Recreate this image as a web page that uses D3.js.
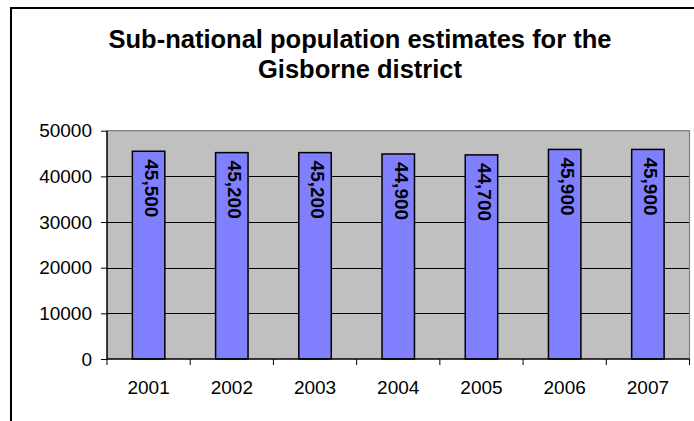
<!DOCTYPE html>
<html><head><meta charset="utf-8">
<script src="https://cdn.jsdelivr.net/npm/d3@7"></script>
<style>body{margin:0;background:#fff}svg{display:block}text{font-family:Arial,"Liberation Sans",sans-serif}</style>
</head><body>
<script>
const years = ["2001","2002","2003","2004","2005","2006","2007"];
const population = [45500,45200,45200,44900,44700,45900,45900];
const yTicks = [0,10000,20000,30000,40000,50000];
const titleLines = ["Sub-national population estimates for the","Gisborne district"];

const W=694,H=421;
const svg=d3.select("body").append("svg").attr("width",W).attr("height",H);
svg.append("rect").attr("x",11).attr("y",8).attr("width",800).attr("height",600)
  .attr("fill","#fff").attr("stroke","#000").attr("stroke-width",2);

const L=107,R=689.5,T=130.7,B=359;
const x=d3.scaleBand().domain(years).range([L,R]).paddingInner(0.61).paddingOuter(0.305);
const xb=d3.scaleBand().domain(years).range([L,R]);
const y=d3.scaleLinear().domain([0,50000]).range([B,T]);

svg.append("rect").attr("x",L).attr("y",T).attr("width",R-L).attr("height",B-T).attr("fill","#c0c0c0");
// gridlines
svg.append("g").selectAll("line").data(yTicks.filter(d=>d>0&&d<50000)).join("line")
  .attr("x1",L).attr("x2",R).attr("y1",d=>Math.round(y(d))+0.5).attr("y2",d=>Math.round(y(d))+0.5)
  .attr("stroke","#000").attr("stroke-width",1);
// plot border top/right
svg.append("path").attr("d",`M${L},${T}H${R}V${B}`).attr("fill","none").attr("stroke","#808080").attr("stroke-width",1.2);

// bars
svg.append("g").selectAll("rect").data(population).join("rect")
  .attr("x",(d,i)=>x(years[i])).attr("width",x.bandwidth())
  .attr("y",d=>y(d)).attr("height",d=>B-y(d))
  .attr("fill","#8080ff").attr("stroke","#000").attr("stroke-width",1.5);

// labels
const fmt=d3.format(",");
svg.append("g").selectAll("text").data(population).join("text")
  .attr("transform",(d,i)=>`translate(${x(years[i])+x.bandwidth()/2+3},${y(d)+8}) rotate(90)`)
  .attr("dy","0.35em").attr("text-anchor","start")
  .attr("font-size",19).attr("font-weight","bold").attr("fill","#000")
  .text(d=>fmt(d));

// y axis
const ya=svg.append("g").attr("transform",`translate(${L},0)`)
  .call(d3.axisLeft(y).tickValues(yTicks).tickSize(6).tickPadding(9).tickFormat(d3.format("d")));
ya.select(".domain").attr("stroke","#000").attr("stroke-width",1.5).attr("d",`M0,${T}V${B}`);
ya.selectAll(".tick line").attr("stroke","#000");
ya.selectAll("text").attr("font-size",19).attr("font-family","Arial,'Liberation Sans',sans-serif").attr("fill","#000");

// x axis
const xa=svg.append("g").attr("transform",`translate(0,${B})`)
  .call(d3.axisBottom(xb).tickSize(0).tickPadding(22));
xa.select(".domain").attr("stroke","#000").attr("stroke-width",1.5).attr("d",`M${L},0H${R}`);
xa.selectAll("text").attr("font-size",19).attr("font-family","Arial,'Liberation Sans',sans-serif").attr("fill","#000");
const bounds=years.map(d=>xb(d)).concat([R]);
xa.append("g").selectAll("line").data(bounds).join("line")
  .attr("x1",d=>d).attr("x2",d=>d).attr("y1",0).attr("y2",6).attr("stroke","#000");

// title
svg.append("g").selectAll("text").data(titleLines).join("text")
  .attr("x",360).attr("y",(d,i)=>48+i*30).attr("text-anchor","middle")
  .attr("font-size",25.5).attr("font-weight","bold").attr("fill","#000").text(d=>d);
</script>
</body></html>
